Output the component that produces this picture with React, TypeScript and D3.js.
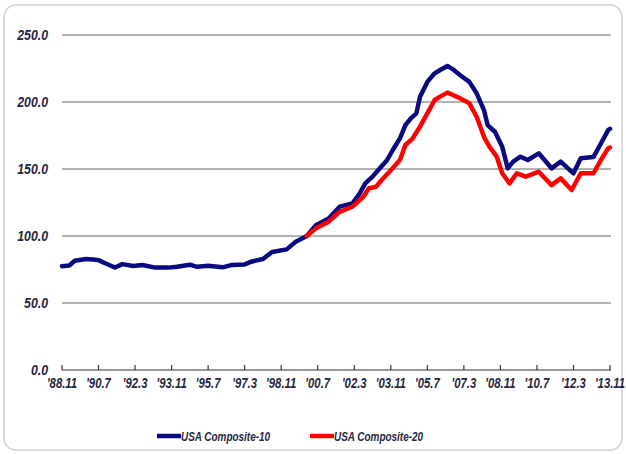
import React from "react";
import * as d3 from "d3";

const yTicks = [0, 50, 100, 150, 200, 250];
const xTickLabels = ["'88.11", "'90.7", "'92.3", "'93.11", "'95.7", "'97.3", "'98.11", "'00.7", "'02.3", "'03.11", "'05.7", "'07.3", "'08.11", "'10.7", "'12.3", "'13.11"];
const xTickDates = ["1988.11", "1990.7", "1992.3", "1993.11", "1995.7", "1997.3", "1998.11", "2000.7", "2002.3", "2003.11", "2005.7", "2007.3", "2008.11", "2010.7", "2012.3", "2013.11"];

const c10Dates = ["1988.11", "1989.3", "1989.6", "1989.12", "1990.4", "1990.7", "1990.10", "1991.4", "1991.8", "1992.2", "1992.7", "1993.2", "1993.9", "1994.2", "1994.9", "1995.1", "1995.7", "1996.3", "1996.8", "1997.3", "1997.7", "1998.1", "1998.6", "1999.2", "1999.7", "2000.1", "2000.6", "2001.1", "2001.7", "2002.2", "2002.6", "2002.9", "2003.1", "2003.5", "2003.9", "2003.12", "2004.4", "2004.7", "2004.10", "2005.1", "2005.3", "2005.7", "2005.11", "2006.2", "2006.6", "2006.9", "2007.1", "2007.6", "2007.10", "2008.2", "2008.4", "2008.8", "2008.12", "2009.3", "2009.6", "2009.10", "2010.2", "2010.8", "2011.3", "2011.8", "2012.3", "2012.7", "2013.2", "2013.6", "2013.10", "2013.11"];
const c10Values = [77.5, 78, 81.5, 82.8, 82.5, 82, 80, 76.5, 79, 77.6, 78.4, 76.4, 76.4, 77, 78.6, 77, 77.8, 76.6, 78.4, 78.8, 81, 82.8, 88, 90, 95.8, 100, 108, 113, 121.9, 124.4, 131.8, 139.3, 144.3, 150.5, 156.7, 164, 172.9, 182.8, 187.8, 191.5, 204, 215, 221.4, 223.9, 226.9, 224.4, 220, 215, 206.5, 194, 182.8, 177.8, 166.6, 150.5, 155.5, 159.2, 156.7, 161.7, 150.5, 155.5, 146.8, 158, 159, 169, 179, 180];

const c20Dates = ["2000.1", "2000.6", "2001.1", "2001.7", "2002.2", "2002.8", "2002.11", "2003.3", "2003.6", "2003.12", "2004.4", "2004.7", "2004.11", "2005.3", "2005.7", "2005.11", "2006.2", "2006.6", "2006.9", "2007.1", "2007.6", "2007.10", "2008.2", "2008.5", "2008.9", "2008.12", "2009.4", "2009.8", "2010.1", "2010.8", "2011.3", "2011.8", "2012.2", "2012.7", "2013.2", "2013.6", "2013.10", "2013.11"];
const c20Values = [100, 105.7, 110.7, 118, 121.9, 129.3, 135.6, 136.8, 141.8, 150.5, 156.7, 167.9, 172.9, 181.6, 191.5, 201.5, 204, 207, 205.2, 202.7, 199, 189, 174, 166.6, 159.2, 146.8, 139.3, 146.8, 144.3, 148, 138, 143, 134.3, 146.8, 146.8, 156.7, 165.4, 166];

const seriesNames = ["USA Composite-10", "USA Composite-20"];
const seriesColors = ["#0a0a80", "#ff0000"];

const monthIndex = (s: string) => {
  const [y, m] = s.split(".").map(Number);
  return (y - 1988) * 12 + (m - 11);
};

const FONT = "'Liberation Sans', Arial, sans-serif";

function NText(props: { x: number; y: number; s: number; size: number; anchor?: string; children: React.ReactNode }) {
  return (
    <text transform={`translate(${props.x},${props.y}) scale(${props.s},1)`} textAnchor={props.anchor || "start"}
      fontFamily={FONT} fontSize={props.size} fontWeight="bold" fontStyle="italic" fill="#262640">{props.children}</text>
  );
}

export default function App() {
  const W = 626, H = 454;
  const x = d3.scaleLinear().domain([0, 300]).range([62, 610]);
  const y = d3.scaleLinear().domain([0, 250]).range([370, 35]);
  const line = d3.line<[number, number]>().x(d => x(d[0])).y(d => y(d[1]));
  const s10: [number, number][] = c10Dates.map((d, i) => [monthIndex(d), c10Values[i]]);
  const s20: [number, number][] = c20Dates.map((d, i) => [monthIndex(d), c20Values[i]]);
  return (
    <svg width={W} height={H} style={{ position: "absolute", left: 0, top: 0, background: "#fff" }}>
      <rect x={4} y={5} width={618} height={445} rx={12} ry={12} fill="#fff" stroke="#d0d0d0" strokeWidth={1.5} />
      {yTicks.filter(t => t > 0).map(t => (
        <line key={t} x1={62} x2={611} y1={y(t)} y2={y(t)} stroke="#999" strokeWidth={1.5} />
      ))}
      {yTicks.map(t => (
        <NText key={"l" + t} x={48} y={y(t) + 5} s={0.88} size={14} anchor="end">{t.toFixed(1)}</NText>
      ))}
      <line x1={62} x2={611} y1={370} y2={370} stroke="#333" strokeWidth={1.2} />
      {xTickDates.map((d, i) => (
        <g key={d}>
          <line x1={x(monthIndex(d))} x2={x(monthIndex(d))} y1={365} y2={370} stroke="#333" strokeWidth={1.2} />
          <NText x={x(monthIndex(d))} y={388} s={0.81} size={14} anchor="middle">{xTickLabels[i]}</NText>
        </g>
      ))}
      <path d={line(s10) || ""} fill="none" stroke={seriesColors[0]} strokeWidth={4.5} strokeLinejoin="round" strokeLinecap="round" />
      <path d={line(s20) || ""} fill="none" stroke={seriesColors[1]} strokeWidth={4.5} strokeLinejoin="round" strokeLinecap="round" />
      {seriesNames.map((n, i) => {
        const lx = i === 0 ? 157 : 310;
        return (
          <g key={n}>
            <line x1={lx} x2={lx + 24} y1={436} y2={436} stroke={seriesColors[i]} strokeWidth={4.5} />
            <NText x={lx + 24} y={441} s={0.765} size={13}>{n}</NText>
          </g>
        );
      })}
    </svg>
  );
}
